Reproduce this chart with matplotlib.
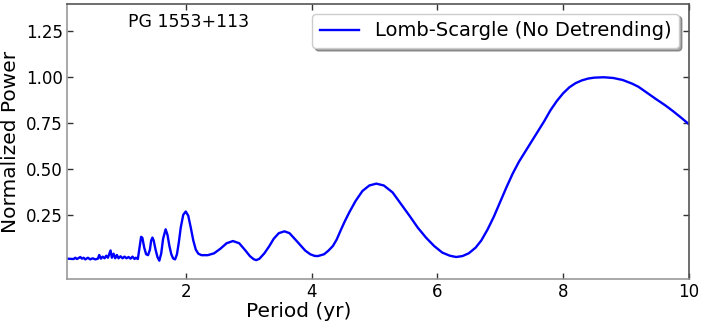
import matplotlib
matplotlib.use("Agg")
import matplotlib.pyplot as plt

# Period (yr) and normalized Lomb-Scargle power
period = [0.111, 0.217, 0.243, 0.27, 0.323, 0.349, 0.376, 0.402, 0.444, 0.481,
          0.519, 0.561, 0.603, 0.624, 0.651, 0.677, 0.709, 0.735, 0.762, 0.804,
          0.825, 0.852, 0.878, 0.905, 0.931, 0.963, 0.995, 1.026, 1.058, 1.09,
          1.122, 1.153, 1.185, 1.206, 1.238,
          1.265, 1.29, 1.31, 1.34, 1.37, 1.40, 1.43, 1.45, 1.47, 1.49, 1.52, 1.55,
          1.58, 1.61, 1.64, 1.68, 1.71, 1.74, 1.77, 1.80, 1.83, 1.86, 1.89, 1.92,
          1.96, 2.00, 2.04, 2.08, 2.12, 2.16, 2.20, 2.25, 2.35,
          2.45, 2.55, 2.65, 2.75, 2.85, 2.95, 3.02, 3.08, 3.12, 3.17, 3.25, 3.33,
          3.40, 3.48, 3.57, 3.65, 3.73, 3.81, 3.90, 3.98, 4.05, 4.10,
          4.20, 4.27, 4.34, 4.40, 4.47, 4.53, 4.60, 4.70, 4.81, 4.92, 5.03, 5.15,
          5.29, 5.42, 5.56, 5.69, 5.82, 5.95, 6.08, 6.20, 6.30, 6.40, 6.50, 6.61,
          6.70, 6.80, 6.90, 7.00, 7.10, 7.20, 7.30, 7.40, 7.50, 7.60, 7.70, 7.80,
          7.90, 8.00, 8.10, 8.20, 8.30, 8.40, 8.50, 8.65, 8.80, 8.95, 9.10, 9.20,
          9.31, 9.40, 9.50, 9.63, 9.75, 9.87, 10.0]
power = [0.011, 0.009, 0.016, 0.009, 0.020, 0.011, 0.016, 0.007, 0.016, 0.007,
         0.013, 0.007, 0.011, 0.031, 0.011, 0.022, 0.013, 0.027, 0.016, 0.056,
         0.016, 0.038, 0.013, 0.031, 0.013, 0.024, 0.013, 0.022, 0.013, 0.020,
         0.011, 0.022, 0.009, 0.016, 0.009,
         0.07, 0.13, 0.125, 0.07, 0.035, 0.03, 0.06, 0.11, 0.126, 0.11, 0.06, 0.02,
         0.0, 0.04, 0.12, 0.171, 0.14, 0.08, 0.035, 0.012, 0.007, 0.035, 0.10, 0.18,
         0.25, 0.268, 0.245, 0.18, 0.11, 0.06, 0.038, 0.03, 0.03,
         0.04, 0.065, 0.095, 0.107, 0.095, 0.055, 0.025, 0.008, 0.003, 0.01, 0.04, 0.08,
         0.12, 0.15, 0.16, 0.15, 0.12, 0.089, 0.055, 0.035, 0.026, 0.025,
         0.035, 0.055, 0.08, 0.115, 0.17, 0.215, 0.263, 0.325, 0.38, 0.41, 0.42, 0.41,
         0.372, 0.31, 0.244, 0.18, 0.126, 0.08, 0.044, 0.027, 0.02, 0.025, 0.04, 0.071,
         0.11, 0.17, 0.24, 0.32, 0.40, 0.475, 0.54, 0.595, 0.65, 0.705, 0.76, 0.82,
         0.87, 0.912, 0.945, 0.968, 0.983, 0.993, 0.998, 1.0, 0.996, 0.985, 0.965, 0.948,
         0.922, 0.90, 0.876, 0.846, 0.815, 0.782, 0.745]

xticks = [2, 4, 6, 8, 10]
yticks = [0.25, 0.50, 0.75, 1.00, 1.25]

fig = plt.figure(figsize=(7.05, 3.25), dpi=100)
ax = fig.add_axes([0.095, 0.1415, 0.882, 0.8465])

ax.plot(period, power, color="#0000ff", lw=1.7, label="Lomb-Scargle (No Detrending)")

ax.set_xlim(0.111, 10)
ax.set_ylim(-0.1, 1.4)
ax.set_xticks(xticks)
ax.set_xticklabels([str(t) for t in xticks])
ax.set_yticks(yticks)
ax.set_yticklabels([f"{t:.2f}" for t in yticks])

ax.tick_params(direction="in", length=4, width=1, labelsize=12, pad=3,
               top=True, right=True, colors="#333333", labelcolor="black")
for side in ["left", "bottom"]:
    ax.spines[side].set_color("#999999")
for side in ["top", "right"]:
    ax.spines[side].set_color("#555555")
for s in ax.spines.values():
    s.set_linewidth(1.2)

ax.set_xlabel("Period (yr)", fontsize=14.5, labelpad=1)
ax.xaxis.set_label_coords(0.373, -0.085)
ax.set_ylabel("Normalized Power", fontsize=14.5, labelpad=4)

ax.text(0.098, 0.935, "PG 1553+113", transform=ax.transAxes, fontsize=12.5,
        ha="left", va="center")

leg = ax.legend(loc="upper right", fontsize=14, fancybox=True, shadow=True,
                framealpha=1, handlelength=2.0, borderaxespad=0.5)
leg.get_frame().set_edgecolor("#cccccc")

fig.savefig("out.png", dpi=100)
